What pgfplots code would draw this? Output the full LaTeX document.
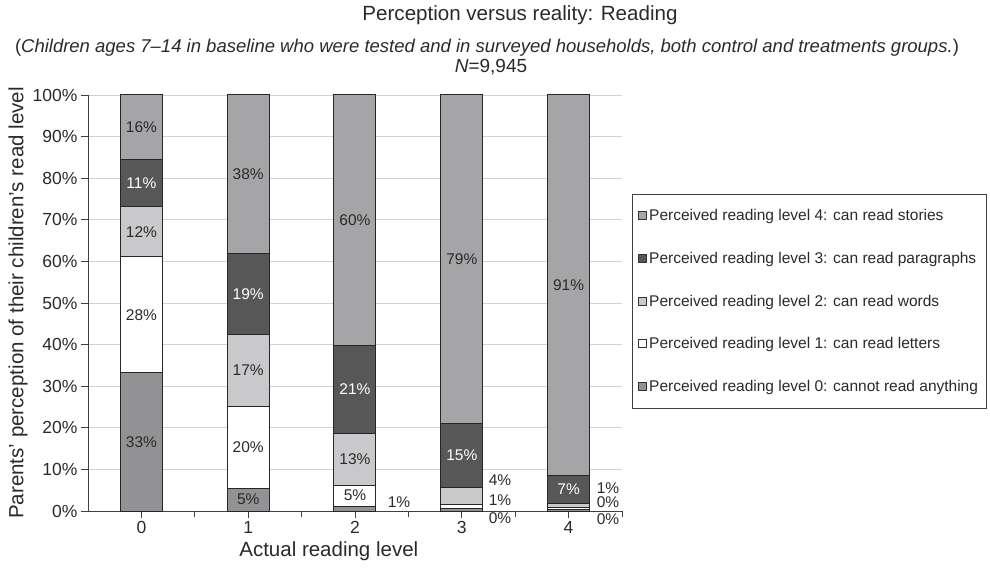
\documentclass[border=0pt]{standalone}
\usepackage{pgfplots}
\pgfplotsset{compat=1.18}
\usepackage{graphicx}
\usepackage{fontspec}
\setmainfont{Liberation Sans}
\definecolor{lvfour}{HTML}{A5A5A7}
\definecolor{lvthree}{HTML}{575757}
\definecolor{lvtwo}{HTML}{C9C9CB}
\definecolor{lvzero}{HTML}{929294}
\definecolor{txt}{HTML}{2A2A2A}
\definecolor{gridc}{HTML}{D2D2D2}
\tikzset{lbl/.style={font=\fontsize{15.5bp}{18bp}\selectfont, text=txt, inner sep=0pt}}
\begin{document}
\begin{tikzpicture}
\useasboundingbox (-88bp,-57bp) rectangle (902bp,511bp);
\begin{axis}[
  at={(0,0)}, anchor=south west,
  width=534bp, height=416bp, scale only axis,
  ybar stacked, bar width=42bp,
  xmin=-0.5, xmax=4.5, ymin=0, ymax=100,
  axis x line*=bottom, axis y line*=left,
  axis line style={draw=black!75, line width=0.8bp},
  xtick={0,1,2,3,4}, xticklabels={0,1,2,3,4},
  extra x ticks={0.5,1.5,2.5,3.5,4.5}, extra x tick labels={},
  extra x tick style={major tick length=6bp},
  ytick={0,10,...,100},
  yticklabel={\pgfmathprintnumber[assume math mode=true]{\tick}\%},
  every tick/.style={draw=black!75, line width=0.8bp},
  major tick length=7bp, tick align=outside,
  ymajorgrids, grid style={draw=gridc, line width=0.8bp},
  tick label style={font=\fontsize{17.5bp}{20bp}\selectfont, text=txt},
  label style={font=\fontsize{20.5bp}{24bp}\selectfont, text=txt},
  xlabel={Actual reading level},
  xlabel style={at={(axis description cs:0.451,-0.096)}, anchor=center},
  ylabel={Parents’ perception of their children’s read level},
  ylabel style={at={(axis description cs:-0.131,0.5)}, anchor=center},
  clip=false,
  reverse legend,
  legend cell align=left,
  legend style={at={(axis description cs:1.0187,0.762)}, anchor=north west,
    draw=black!75, line width=0.8bp,
    font=\fontsize{15.5bp}{18bp}\selectfont, text=txt,
    inner xsep=6bp, inner ysep=13bp, row sep=26bp},
  legend image code/.code={\draw[#1, draw=black!80, line width=0.8bp] (0bp,-4bp) rectangle (8bp,4bp);},
]
\addplot[fill=lvzero, draw=black!85, line width=1bp] coordinates {(0,33.2) (1,5.5) (2,1.2) (3,0.5) (4,0.4)};
\addplot[fill=white, draw=black!85, line width=1bp] coordinates {(0,27.9) (1,19.7) (2,5.05) (3,1.0) (4,0.4)};
\addplot[fill=lvtwo, draw=black!85, line width=1bp] coordinates {(0,12.0) (1,17.3) (2,12.5) (3,4.2) (4,1.1)};
\addplot[fill=lvthree, draw=black!85, line width=1bp] coordinates {(0,11.5) (1,19.3) (2,20.95) (3,15.4) (4,6.75)};
\addplot[fill=lvfour, draw=black!85, line width=1bp] coordinates {(0,15.4) (1,38.2) (2,60.3) (3,78.9) (4,91.35)};
\legend{Perceived reading level 0: cannot read anything,
        Perceived reading level 1: can read letters,
        Perceived reading level 2: can read words,
        Perceived reading level 3: can read paragraphs,
        Perceived reading level 4: can read stories}
\end{axis}
% segment labels, in the axis' own units (x: 106.8bp per category, y: 4.16bp per percent)
\begin{scope}[x=106.8bp, y=4.16bp, shift={(53.4bp,0bp)}]
% category 0
\node[lbl] at (0,16.6) {33\%};
\node[lbl] at (0,47.15) {28\%};
\node[lbl] at (0,67.1) {12\%};
\node[lbl, text=white] at (0,78.85) {11\%};
\node[lbl] at (0,92.3) {16\%};
% category 1
\node[lbl] at (1,2.75) {5\%};
\node[lbl] at (1,15.35) {20\%};
\node[lbl] at (1,33.85) {17\%};
\node[lbl, text=white] at (1,52.15) {19\%};
\node[lbl] at (1,80.9) {38\%};
% category 2
\node[lbl] at (2.412,2.2) {1\%};
\node[lbl] at (2,3.725) {5\%};
\node[lbl] at (2,12.5) {13\%};
\node[lbl, text=white] at (2,29.225) {21\%};
\node[lbl] at (2,69.85) {60\%};
% category 3
\node[lbl] at (3.358,-1.68) {0\%};
\node[lbl] at (3.358,2.64) {1\%};
\node[lbl] at (3.358,7.45) {4\%};
\node[lbl, text=white] at (3,13.4) {15\%};
\node[lbl] at (3,60.55) {79\%};
% category 4
\node[lbl] at (4.369,-1.92) {0\%};
\node[lbl] at (4.369,2.16) {0\%};
\node[lbl] at (4.369,5.53) {1\%};
\node[lbl, text=white] at (4,5.275) {7\%};
\node[lbl] at (4,54.3) {91\%};
\end{scope}
\node[text=txt, inner sep=0pt] at (432bp,496bp) {\resizebox{315bp}{!}{Perception versus reality: Reading}};
\node[text=txt, inner sep=0pt] at (399bp,463bp) {\resizebox{944bp}{!}{(\textit{Children ages 7–14 in baseline who were tested and in surveyed households, both control and treatments groups.})}};
\node[text=txt, inner sep=0pt, font=\fontsize{19bp}{22bp}\selectfont] at (403bp,444bp) {\textit{N}=9,945};
\end{tikzpicture}
\end{document}
